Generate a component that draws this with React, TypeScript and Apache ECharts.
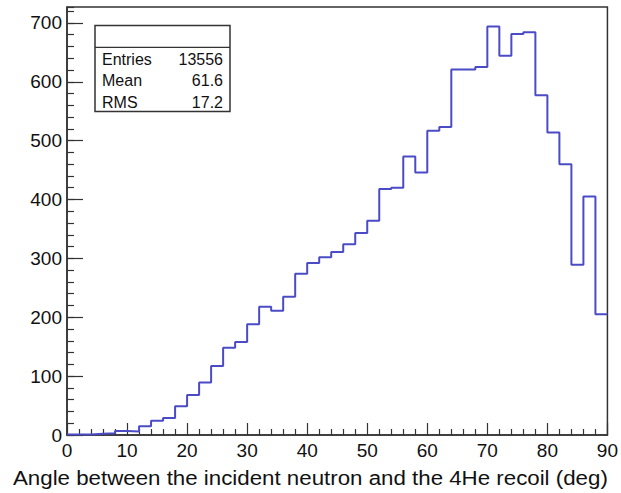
import React, { useEffect, useRef } from "react";
import * as echarts from "echarts";

// Histogram binning (degrees)
const xMin = 0;
const xMax = 90;
const binWidth = 2;

// Counts per 2-degree bin, 0..90 deg
const counts = [
  1, 1, 2, 3, 7, 6, 15, 24, 29, 49,
  68, 89, 117, 148, 158, 188, 218, 211, 235, 274,
  292, 302, 311, 324, 343, 364, 418, 420, 473, 446,
  517, 523, 621, 621, 625, 694, 644, 681, 684, 577,
  514, 460, 289, 405, 205,
];

const statLabels = ["Entries", "Mean", "RMS"];
const statValues = ["13556", "61.6", "17.2"];

const xTitle = "Angle between the incident neutron and the 4He recoil (deg)";
const yMax = 727;

const FONT = "'Liberation Sans', Arial, Helvetica, sans-serif";
const FRAME = "#333333";
const LINE = "#4b4bc6";

export default function App() {
  const ref = useRef<HTMLDivElement>(null);

  useEffect(() => {
    if (!ref.current) return;
    document.body.style.margin = "0";
    const chart = echarts.init(ref.current, null, { renderer: "svg" });

    // step outline: each bin starts at its low edge, closed at xMax
    const stepData: [number, number][] = counts.map((c, i) => [xMin + i * binWidth, c]);
    stepData.push([xMax, counts[counts.length - 1]]);

    const statRows = statLabels.flatMap((lab, i) => [
      {
        type: "text",
        x: 102,
        y: 59.5 + i * 21.3,
        style: { text: lab, font: `16px ${FONT}`, fill: "#111", verticalAlign: "middle" },
      },
      {
        type: "text",
        x: 223,
        y: 59.5 + i * 21.3,
        style: {
          text: statValues[i],
          font: `16px ${FONT}`,
          fill: "#111",
          align: "right",
          verticalAlign: "middle",
        },
      },
    ]);

    chart.setOption({
      animation: false,
      backgroundColor: "#ffffff",
      grid: {
        left: 67,
        right: 11,
        top: 7,
        bottom: 58,
        show: true,
        borderColor: FRAME,
        borderWidth: 1.5,
        backgroundColor: "transparent",
      },
      xAxis: {
        type: "value",
        min: xMin,
        max: xMax,
        interval: 10,
        axisLine: { show: true, lineStyle: { color: FRAME, width: 1.5 } },
        axisTick: { show: true, inside: true, length: 12, lineStyle: { color: FRAME, width: 1.2 } },
        minorTick: { show: true, splitNumber: 5, length: 6, lineStyle: { color: FRAME, width: 1.2 } },
        splitLine: { show: false },
        axisLabel: {
          margin: 6,
          color: "#111",
          fontSize: 19,
          fontFamily: FONT,
        },
      },
      yAxis: [
        {
          type: "value",
          min: 0,
          max: yMax,
          interval: 100,
          axisLine: { show: true, lineStyle: { color: FRAME, width: 1.5 } },
          axisTick: { show: true, inside: true, length: 16, lineStyle: { color: FRAME, width: 1.2 } },
          splitLine: { show: false },
          axisLabel: {
            margin: 5,
            color: "#111",
            fontSize: 19,
            fontFamily: FONT,
            showMaxLabel: false,
          },
        },
        {
          type: "value",
          min: 0,
          max: yMax,
          interval: 20,
          position: "left",
          axisLine: { show: false },
          axisTick: { show: true, inside: true, length: 7, lineStyle: { color: FRAME, width: 1.2 } },
          splitLine: { show: false },
          axisLabel: { show: false },
        },
      ],
      series: [
        {
          type: "line",
          step: "end",
          data: stepData,
          symbol: "none",
          clip: true,
          lineStyle: { color: LINE, width: 2 },
        },
      ],
      graphic: [
        {
          type: "text",
          x: 13,
          y: 478,
          scaleX: 1.115,
          style: {
            text: xTitle,
            font: `20px ${FONT}`,
            fill: "#111",
            align: "left",
            verticalAlign: "middle",
          },
        },
        {
          type: "rect",
          shape: { x: 95, y: 25.5, width: 135, height: 86 },
          style: { fill: "#ffffff", stroke: FRAME, lineWidth: 1.5 },
        },
        {
          type: "line",
          shape: { x1: 95, y1: 47.3, x2: 230, y2: 47.3 },
          style: { stroke: FRAME, lineWidth: 1.2 },
        },
        ...statRows,
      ],
    });

    return () => chart.dispose();
  }, []);

  return <div ref={ref} style={{ width: 621, height: 493 }} />;
}
